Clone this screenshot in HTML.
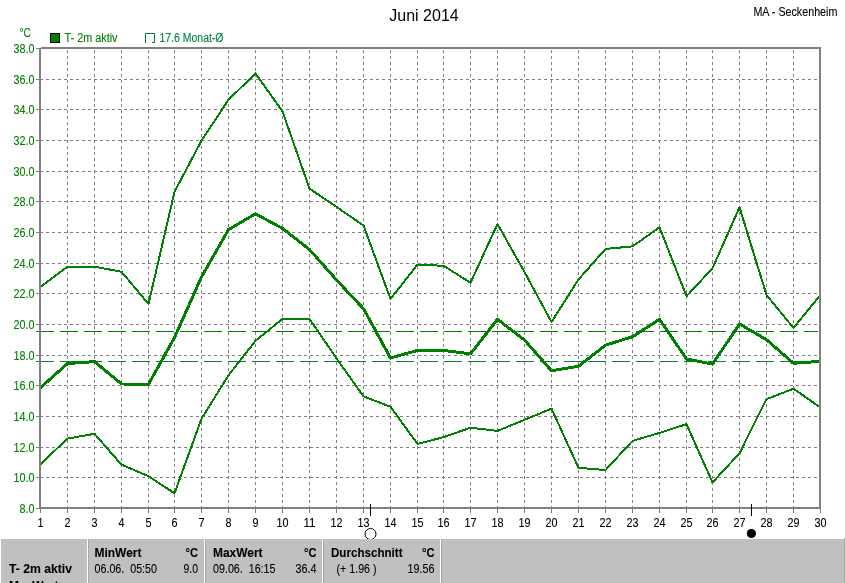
<!DOCTYPE html>
<html><head><meta charset="utf-8"><title>Juni 2014</title>
<style>html,body{margin:0;padding:0;background:#fff;overflow:hidden}svg{display:block}text{font-family:"Liberation Sans",sans-serif;white-space:pre}</style></head><body>
<svg width="845" height="583" viewBox="0 0 845 583">
<rect width="845" height="583" fill="#fff"/>
<g shape-rendering="crispEdges" stroke="#808080" stroke-width="1" stroke-dasharray="3 3" fill="none">
<line x1="40" y1="477.5" x2="819" y2="477.5"/>
<line x1="40" y1="447.5" x2="819" y2="447.5"/>
<line x1="40" y1="416.5" x2="819" y2="416.5"/>
<line x1="40" y1="385.5" x2="819" y2="385.5"/>
<line x1="40" y1="355.5" x2="819" y2="355.5"/>
<line x1="40" y1="324.5" x2="819" y2="324.5"/>
<line x1="40" y1="293.5" x2="819" y2="293.5"/>
<line x1="40" y1="263.5" x2="819" y2="263.5"/>
<line x1="40" y1="232.5" x2="819" y2="232.5"/>
<line x1="40" y1="201.5" x2="819" y2="201.5"/>
<line x1="40" y1="171.5" x2="819" y2="171.5"/>
<line x1="40" y1="140.5" x2="819" y2="140.5"/>
<line x1="40" y1="109.5" x2="819" y2="109.5"/>
<line x1="40" y1="79.5" x2="819" y2="79.5"/>
<line x1="67.5" y1="50" x2="67.5" y2="507"/>
<line x1="94.5" y1="50" x2="94.5" y2="507"/>
<line x1="121.5" y1="50" x2="121.5" y2="507"/>
<line x1="148.5" y1="50" x2="148.5" y2="507"/>
<line x1="174.5" y1="50" x2="174.5" y2="507"/>
<line x1="201.5" y1="50" x2="201.5" y2="507"/>
<line x1="228.5" y1="50" x2="228.5" y2="507"/>
<line x1="255.5" y1="50" x2="255.5" y2="507"/>
<line x1="282.5" y1="50" x2="282.5" y2="507"/>
<line x1="309.5" y1="50" x2="309.5" y2="507"/>
<line x1="336.5" y1="50" x2="336.5" y2="507"/>
<line x1="363.5" y1="50" x2="363.5" y2="507"/>
<line x1="390.5" y1="50" x2="390.5" y2="507"/>
<line x1="417.5" y1="50" x2="417.5" y2="507"/>
<line x1="443.5" y1="50" x2="443.5" y2="507"/>
<line x1="470.5" y1="50" x2="470.5" y2="507"/>
<line x1="497.5" y1="50" x2="497.5" y2="507"/>
<line x1="524.5" y1="50" x2="524.5" y2="507"/>
<line x1="551.5" y1="50" x2="551.5" y2="507"/>
<line x1="578.5" y1="50" x2="578.5" y2="507"/>
<line x1="605.5" y1="50" x2="605.5" y2="507"/>
<line x1="632.5" y1="50" x2="632.5" y2="507"/>
<line x1="659.5" y1="50" x2="659.5" y2="507"/>
<line x1="686.5" y1="50" x2="686.5" y2="507"/>
<line x1="712.5" y1="50" x2="712.5" y2="507"/>
<line x1="739.5" y1="50" x2="739.5" y2="507"/>
<line x1="766.5" y1="50" x2="766.5" y2="507"/>
<line x1="793.5" y1="50" x2="793.5" y2="507"/>
</g>
<g shape-rendering="crispEdges" stroke="#808080" stroke-width="1" fill="none">
<line x1="40.5" y1="509" x2="40.5" y2="513"/>
<line x1="67.5" y1="509" x2="67.5" y2="513"/>
<line x1="94.5" y1="509" x2="94.5" y2="513"/>
<line x1="121.5" y1="509" x2="121.5" y2="513"/>
<line x1="148.5" y1="509" x2="148.5" y2="513"/>
<line x1="174.5" y1="509" x2="174.5" y2="513"/>
<line x1="201.5" y1="509" x2="201.5" y2="513"/>
<line x1="228.5" y1="509" x2="228.5" y2="513"/>
<line x1="255.5" y1="509" x2="255.5" y2="513"/>
<line x1="282.5" y1="509" x2="282.5" y2="513"/>
<line x1="309.5" y1="509" x2="309.5" y2="513"/>
<line x1="336.5" y1="509" x2="336.5" y2="513"/>
<line x1="363.5" y1="509" x2="363.5" y2="513"/>
<line x1="390.5" y1="509" x2="390.5" y2="513"/>
<line x1="417.5" y1="509" x2="417.5" y2="513"/>
<line x1="443.5" y1="509" x2="443.5" y2="513"/>
<line x1="470.5" y1="509" x2="470.5" y2="513"/>
<line x1="497.5" y1="509" x2="497.5" y2="513"/>
<line x1="524.5" y1="509" x2="524.5" y2="513"/>
<line x1="551.5" y1="509" x2="551.5" y2="513"/>
<line x1="578.5" y1="509" x2="578.5" y2="513"/>
<line x1="605.5" y1="509" x2="605.5" y2="513"/>
<line x1="632.5" y1="509" x2="632.5" y2="513"/>
<line x1="659.5" y1="509" x2="659.5" y2="513"/>
<line x1="686.5" y1="509" x2="686.5" y2="513"/>
<line x1="712.5" y1="509" x2="712.5" y2="513"/>
<line x1="739.5" y1="509" x2="739.5" y2="513"/>
<line x1="766.5" y1="509" x2="766.5" y2="513"/>
<line x1="793.5" y1="509" x2="793.5" y2="513"/>
<line x1="820.5" y1="509" x2="820.5" y2="513"/>
<line x1="36" y1="508.5" x2="39" y2="508.5"/>
<line x1="36" y1="477.5" x2="39" y2="477.5"/>
<line x1="36" y1="447.5" x2="39" y2="447.5"/>
<line x1="36" y1="416.5" x2="39" y2="416.5"/>
<line x1="36" y1="385.5" x2="39" y2="385.5"/>
<line x1="36" y1="355.5" x2="39" y2="355.5"/>
<line x1="36" y1="324.5" x2="39" y2="324.5"/>
<line x1="36" y1="293.5" x2="39" y2="293.5"/>
<line x1="36" y1="263.5" x2="39" y2="263.5"/>
<line x1="36" y1="232.5" x2="39" y2="232.5"/>
<line x1="36" y1="201.5" x2="39" y2="201.5"/>
<line x1="36" y1="171.5" x2="39" y2="171.5"/>
<line x1="36" y1="140.5" x2="39" y2="140.5"/>
<line x1="36" y1="109.5" x2="39" y2="109.5"/>
<line x1="36" y1="79.5" x2="39" y2="79.5"/>
<line x1="36" y1="48.5" x2="39" y2="48.5"/>
</g>
<g shape-rendering="crispEdges" stroke-width="1" fill="none" stroke-dasharray="18 6">
<line x1="36" y1="331.5" x2="818" y2="331.5" stroke="#008000"/>
<line x1="36" y1="361.5" x2="818" y2="361.5" stroke="#008040"/>
</g>
<clipPath id="cp"><rect x="39" y="47" width="782" height="462"/></clipPath>
<g clip-path="url(#cp)" shape-rendering="crispEdges" stroke="#008000" fill="none" stroke-linejoin="round" stroke-linecap="round">
<polyline stroke-width="2" points="40.5,286.8 67.5,266.6 94.5,266.6 121.5,271.8 148.5,303.9 174.5,191.8 201.5,140.7 228.5,99.7 255.5,73.5 282.5,111.4 309.5,188.6 336.5,206.9 363.5,225.5 390.5,298.9 417.5,264.6 443.5,265.8 470.5,282.7 497.5,224.0 524.5,272.0 551.5,322.0 578.5,279.5 605.5,248.9 632.5,246.4 659.5,227.3 686.5,296.2 712.5,268.3 739.5,207.4 766.5,295.0 793.5,328.0 820.5,294.8"/>
<polyline stroke-width="2" points="40.5,464.2 67.5,438.6 94.5,433.8 121.5,464.7 148.5,476.2 174.5,493.3 201.5,418.8 228.5,375.3 255.5,340.8 282.5,318.9 309.5,318.9 336.5,358.4 363.5,396.4 390.5,406.8 417.5,443.9 443.5,437.2 470.5,427.7 497.5,430.9 524.5,419.8 551.5,408.7 578.5,467.8 605.5,470.0 632.5,440.9 659.5,432.9 686.5,424.2 712.5,482.4 739.5,453.3 766.5,399.2 793.5,388.7 820.5,407.6"/>
<polyline stroke-width="3" points="40.5,387.7 67.5,363.5 94.5,361.6 121.5,384.0 148.5,384.2 174.5,337.6 201.5,276.9 228.5,229.6 255.5,213.8 282.5,228.4 309.5,249.5 336.5,280.0 363.5,308.7 390.5,358.0 417.5,350.4 443.5,350.4 470.5,353.9 497.5,319.3 524.5,340.0 551.5,370.8 578.5,366.3 605.5,345.2 632.5,336.7 659.5,319.3 686.5,359.0 712.5,364.1 739.5,324.0 766.5,339.7 793.5,363.3 820.5,361.3"/>
</g>
<g shape-rendering="crispEdges" fill="#808080">
<rect x="41" y="47" width="780" height="2"/>
<rect x="39" y="507" width="782" height="2"/>
<rect x="39" y="48" width="2" height="461"/>
<rect x="819" y="47" width="2" height="462"/>
</g>
<g shape-rendering="crispEdges" fill="#000"><rect x="370" y="504" width="1" height="12"/><rect x="751" y="504" width="1" height="12"/></g>
<circle cx="370.5" cy="534" r="5.5" fill="none" stroke="#000" stroke-width="1"/>
<circle cx="751.4" cy="533.5" r="4.6" fill="#000"/>
<rect x="50.5" y="33.5" width="9" height="9" fill="#008000" stroke="#000" stroke-width="1" shape-rendering="crispEdges"/>
<path d="M145.5 42.5V33.5H154.5V42.5H151.5" fill="none" stroke="#008040" stroke-width="1" shape-rendering="crispEdges"/>
<text x="389.3" y="21" font-size="16" fill="#000" stroke="#000" stroke-width="0" textLength="69.4" lengthAdjust="spacingAndGlyphs">Juni 2014</text>
<text x="753.4" y="16" font-size="12.5" fill="#000" stroke="#000" stroke-width="0.1" textLength="84" lengthAdjust="spacingAndGlyphs">MA - Seckenheim</text>
<text x="19.5" y="37" font-size="12.5" fill="#008000" stroke="#008000" stroke-width="0.1" textLength="11.5" lengthAdjust="spacingAndGlyphs">°C</text>
<text x="64.5" y="42" font-size="12.5" fill="#008000" stroke="#008000" stroke-width="0.1" textLength="53" lengthAdjust="spacingAndGlyphs">T- 2m aktiv</text>
<text x="159.5" y="42" font-size="12.5" fill="#008040" stroke="#008040" stroke-width="0.1" textLength="64" lengthAdjust="spacingAndGlyphs">17.6 Monat-Ø</text>
<text x="34.5" y="513" font-size="12.5" fill="#008000" stroke="#008000" stroke-width="0.1" text-anchor="end" textLength="15" lengthAdjust="spacingAndGlyphs">8.0</text>
<text x="34.5" y="482" font-size="12.5" fill="#008000" stroke="#008000" stroke-width="0.1" text-anchor="end" textLength="21" lengthAdjust="spacingAndGlyphs">10.0</text>
<text x="34.5" y="452" font-size="12.5" fill="#008000" stroke="#008000" stroke-width="0.1" text-anchor="end" textLength="21" lengthAdjust="spacingAndGlyphs">12.0</text>
<text x="34.5" y="421" font-size="12.5" fill="#008000" stroke="#008000" stroke-width="0.1" text-anchor="end" textLength="21" lengthAdjust="spacingAndGlyphs">14.0</text>
<text x="34.5" y="390" font-size="12.5" fill="#008000" stroke="#008000" stroke-width="0.1" text-anchor="end" textLength="21" lengthAdjust="spacingAndGlyphs">16.0</text>
<text x="34.5" y="360" font-size="12.5" fill="#008000" stroke="#008000" stroke-width="0.1" text-anchor="end" textLength="21" lengthAdjust="spacingAndGlyphs">18.0</text>
<text x="34.5" y="329" font-size="12.5" fill="#008000" stroke="#008000" stroke-width="0.1" text-anchor="end" textLength="21" lengthAdjust="spacingAndGlyphs">20.0</text>
<text x="34.5" y="298" font-size="12.5" fill="#008000" stroke="#008000" stroke-width="0.1" text-anchor="end" textLength="21" lengthAdjust="spacingAndGlyphs">22.0</text>
<text x="34.5" y="268" font-size="12.5" fill="#008000" stroke="#008000" stroke-width="0.1" text-anchor="end" textLength="21" lengthAdjust="spacingAndGlyphs">24.0</text>
<text x="34.5" y="237" font-size="12.5" fill="#008000" stroke="#008000" stroke-width="0.1" text-anchor="end" textLength="21" lengthAdjust="spacingAndGlyphs">26.0</text>
<text x="34.5" y="206" font-size="12.5" fill="#008000" stroke="#008000" stroke-width="0.1" text-anchor="end" textLength="21" lengthAdjust="spacingAndGlyphs">28.0</text>
<text x="34.5" y="176" font-size="12.5" fill="#008000" stroke="#008000" stroke-width="0.1" text-anchor="end" textLength="21" lengthAdjust="spacingAndGlyphs">30.0</text>
<text x="34.5" y="145" font-size="12.5" fill="#008000" stroke="#008000" stroke-width="0.1" text-anchor="end" textLength="21" lengthAdjust="spacingAndGlyphs">32.0</text>
<text x="34.5" y="114" font-size="12.5" fill="#008000" stroke="#008000" stroke-width="0.1" text-anchor="end" textLength="21" lengthAdjust="spacingAndGlyphs">34.0</text>
<text x="34.5" y="84" font-size="12.5" fill="#008000" stroke="#008000" stroke-width="0.1" text-anchor="end" textLength="21" lengthAdjust="spacingAndGlyphs">36.0</text>
<text x="34.5" y="53" font-size="12.5" fill="#008000" stroke="#008000" stroke-width="0.1" text-anchor="end" textLength="21" lengthAdjust="spacingAndGlyphs">38.0</text>
<text x="40.5" y="527" font-size="12.5" fill="#000" stroke="#000" stroke-width="0.1" text-anchor="middle" textLength="6" lengthAdjust="spacingAndGlyphs">1</text>
<text x="67.5" y="527" font-size="12.5" fill="#000" stroke="#000" stroke-width="0.1" text-anchor="middle" textLength="6" lengthAdjust="spacingAndGlyphs">2</text>
<text x="94.5" y="527" font-size="12.5" fill="#000" stroke="#000" stroke-width="0.1" text-anchor="middle" textLength="6" lengthAdjust="spacingAndGlyphs">3</text>
<text x="121.5" y="527" font-size="12.5" fill="#000" stroke="#000" stroke-width="0.1" text-anchor="middle" textLength="6" lengthAdjust="spacingAndGlyphs">4</text>
<text x="148.5" y="527" font-size="12.5" fill="#000" stroke="#000" stroke-width="0.1" text-anchor="middle" textLength="6" lengthAdjust="spacingAndGlyphs">5</text>
<text x="174.5" y="527" font-size="12.5" fill="#000" stroke="#000" stroke-width="0.1" text-anchor="middle" textLength="6" lengthAdjust="spacingAndGlyphs">6</text>
<text x="201.5" y="527" font-size="12.5" fill="#000" stroke="#000" stroke-width="0.1" text-anchor="middle" textLength="6" lengthAdjust="spacingAndGlyphs">7</text>
<text x="228.5" y="527" font-size="12.5" fill="#000" stroke="#000" stroke-width="0.1" text-anchor="middle" textLength="6" lengthAdjust="spacingAndGlyphs">8</text>
<text x="255.5" y="527" font-size="12.5" fill="#000" stroke="#000" stroke-width="0.1" text-anchor="middle" textLength="6" lengthAdjust="spacingAndGlyphs">9</text>
<text x="282.5" y="527" font-size="12.5" fill="#000" stroke="#000" stroke-width="0.1" text-anchor="middle" textLength="12" lengthAdjust="spacingAndGlyphs">10</text>
<text x="309.5" y="527" font-size="12.5" fill="#000" stroke="#000" stroke-width="0.1" text-anchor="middle" textLength="12" lengthAdjust="spacingAndGlyphs">11</text>
<text x="336.5" y="527" font-size="12.5" fill="#000" stroke="#000" stroke-width="0.1" text-anchor="middle" textLength="12" lengthAdjust="spacingAndGlyphs">12</text>
<text x="363.5" y="527" font-size="12.5" fill="#000" stroke="#000" stroke-width="0.1" text-anchor="middle" textLength="12" lengthAdjust="spacingAndGlyphs">13</text>
<text x="390.5" y="527" font-size="12.5" fill="#000" stroke="#000" stroke-width="0.1" text-anchor="middle" textLength="12" lengthAdjust="spacingAndGlyphs">14</text>
<text x="417.5" y="527" font-size="12.5" fill="#000" stroke="#000" stroke-width="0.1" text-anchor="middle" textLength="12" lengthAdjust="spacingAndGlyphs">15</text>
<text x="443.5" y="527" font-size="12.5" fill="#000" stroke="#000" stroke-width="0.1" text-anchor="middle" textLength="12" lengthAdjust="spacingAndGlyphs">16</text>
<text x="470.5" y="527" font-size="12.5" fill="#000" stroke="#000" stroke-width="0.1" text-anchor="middle" textLength="12" lengthAdjust="spacingAndGlyphs">17</text>
<text x="497.5" y="527" font-size="12.5" fill="#000" stroke="#000" stroke-width="0.1" text-anchor="middle" textLength="12" lengthAdjust="spacingAndGlyphs">18</text>
<text x="524.5" y="527" font-size="12.5" fill="#000" stroke="#000" stroke-width="0.1" text-anchor="middle" textLength="12" lengthAdjust="spacingAndGlyphs">19</text>
<text x="551.5" y="527" font-size="12.5" fill="#000" stroke="#000" stroke-width="0.1" text-anchor="middle" textLength="12" lengthAdjust="spacingAndGlyphs">20</text>
<text x="578.5" y="527" font-size="12.5" fill="#000" stroke="#000" stroke-width="0.1" text-anchor="middle" textLength="12" lengthAdjust="spacingAndGlyphs">21</text>
<text x="605.5" y="527" font-size="12.5" fill="#000" stroke="#000" stroke-width="0.1" text-anchor="middle" textLength="12" lengthAdjust="spacingAndGlyphs">22</text>
<text x="632.5" y="527" font-size="12.5" fill="#000" stroke="#000" stroke-width="0.1" text-anchor="middle" textLength="12" lengthAdjust="spacingAndGlyphs">23</text>
<text x="659.5" y="527" font-size="12.5" fill="#000" stroke="#000" stroke-width="0.1" text-anchor="middle" textLength="12" lengthAdjust="spacingAndGlyphs">24</text>
<text x="686.5" y="527" font-size="12.5" fill="#000" stroke="#000" stroke-width="0.1" text-anchor="middle" textLength="12" lengthAdjust="spacingAndGlyphs">25</text>
<text x="712.5" y="527" font-size="12.5" fill="#000" stroke="#000" stroke-width="0.1" text-anchor="middle" textLength="12" lengthAdjust="spacingAndGlyphs">26</text>
<text x="739.5" y="527" font-size="12.5" fill="#000" stroke="#000" stroke-width="0.1" text-anchor="middle" textLength="12" lengthAdjust="spacingAndGlyphs">27</text>
<text x="766.5" y="527" font-size="12.5" fill="#000" stroke="#000" stroke-width="0.1" text-anchor="middle" textLength="12" lengthAdjust="spacingAndGlyphs">28</text>
<text x="793.5" y="527" font-size="12.5" fill="#000" stroke="#000" stroke-width="0.1" text-anchor="middle" textLength="12" lengthAdjust="spacingAndGlyphs">29</text>
<text x="820.5" y="527" font-size="12.5" fill="#000" stroke="#000" stroke-width="0.1" text-anchor="middle" textLength="12" lengthAdjust="spacingAndGlyphs">30</text>
<g shape-rendering="crispEdges">
<rect x="1" y="539" width="843" height="44" fill="#c0c0c0"/>
<rect x="87" y="539" width="1" height="44" fill="#fff"/><rect x="88" y="539" width="1" height="44" fill="#aca899"/>
<rect x="204" y="539" width="1" height="44" fill="#fff"/><rect x="205" y="539" width="1" height="44" fill="#aca899"/>
<rect x="322" y="539" width="1" height="44" fill="#fff"/><rect x="323" y="539" width="1" height="44" fill="#aca899"/>
<rect x="440" y="539" width="1" height="44" fill="#fff"/><rect x="441" y="539" width="1" height="44" fill="#aca899"/>
<rect x="844" y="538" width="1" height="45" fill="#aca899"/>
</g>
<text x="9" y="573" font-size="12.5" fill="#000" stroke="#000" stroke-width="0.1" textLength="63" lengthAdjust="spacingAndGlyphs" font-weight="bold">T- 2m aktiv</text>
<text x="9" y="590" font-size="12.5" fill="#000" stroke="#000" stroke-width="0.1" textLength="49.5" lengthAdjust="spacingAndGlyphs" font-weight="bold">MaxWert</text>
<text x="94.5" y="557" font-size="12.5" fill="#000" stroke="#000" stroke-width="0.1" textLength="47" lengthAdjust="spacingAndGlyphs" font-weight="bold">MinWert</text>
<text x="198" y="557" font-size="12.5" fill="#000" stroke="#000" stroke-width="0.1" text-anchor="end" textLength="12.5" lengthAdjust="spacingAndGlyphs" font-weight="bold">°C</text>
<text x="94.5" y="573" font-size="12.5" fill="#000" stroke="#000" stroke-width="0.1" textLength="62.5" lengthAdjust="spacingAndGlyphs">06.06.  05:50</text>
<text x="198" y="573" font-size="12.5" fill="#000" stroke="#000" stroke-width="0.1" text-anchor="end" textLength="14.5" lengthAdjust="spacingAndGlyphs">9.0</text>
<text x="213" y="557" font-size="12.5" fill="#000" stroke="#000" stroke-width="0.1" textLength="49.5" lengthAdjust="spacingAndGlyphs" font-weight="bold">MaxWert</text>
<text x="316.5" y="557" font-size="12.5" fill="#000" stroke="#000" stroke-width="0.1" text-anchor="end" textLength="12.5" lengthAdjust="spacingAndGlyphs" font-weight="bold">°C</text>
<text x="213" y="573" font-size="12.5" fill="#000" stroke="#000" stroke-width="0.1" textLength="62.5" lengthAdjust="spacingAndGlyphs">09.06.  16:15</text>
<text x="316.5" y="573" font-size="12.5" fill="#000" stroke="#000" stroke-width="0.1" text-anchor="end" textLength="21" lengthAdjust="spacingAndGlyphs">36.4</text>
<text x="331" y="557" font-size="12.5" fill="#000" stroke="#000" stroke-width="0.1" textLength="71.5" lengthAdjust="spacingAndGlyphs" font-weight="bold">Durchschnitt</text>
<text x="434.5" y="557" font-size="12.5" fill="#000" stroke="#000" stroke-width="0.1" text-anchor="end" textLength="12.5" lengthAdjust="spacingAndGlyphs" font-weight="bold">°C</text>
<text x="336.5" y="573" font-size="12.5" fill="#000" stroke="#000" stroke-width="0.1" textLength="40" lengthAdjust="spacingAndGlyphs">(+ 1.96 )</text>
<text x="434.5" y="573" font-size="12.5" fill="#000" stroke="#000" stroke-width="0.1" text-anchor="end" textLength="27" lengthAdjust="spacingAndGlyphs">19.56</text>
</svg></body></html>
